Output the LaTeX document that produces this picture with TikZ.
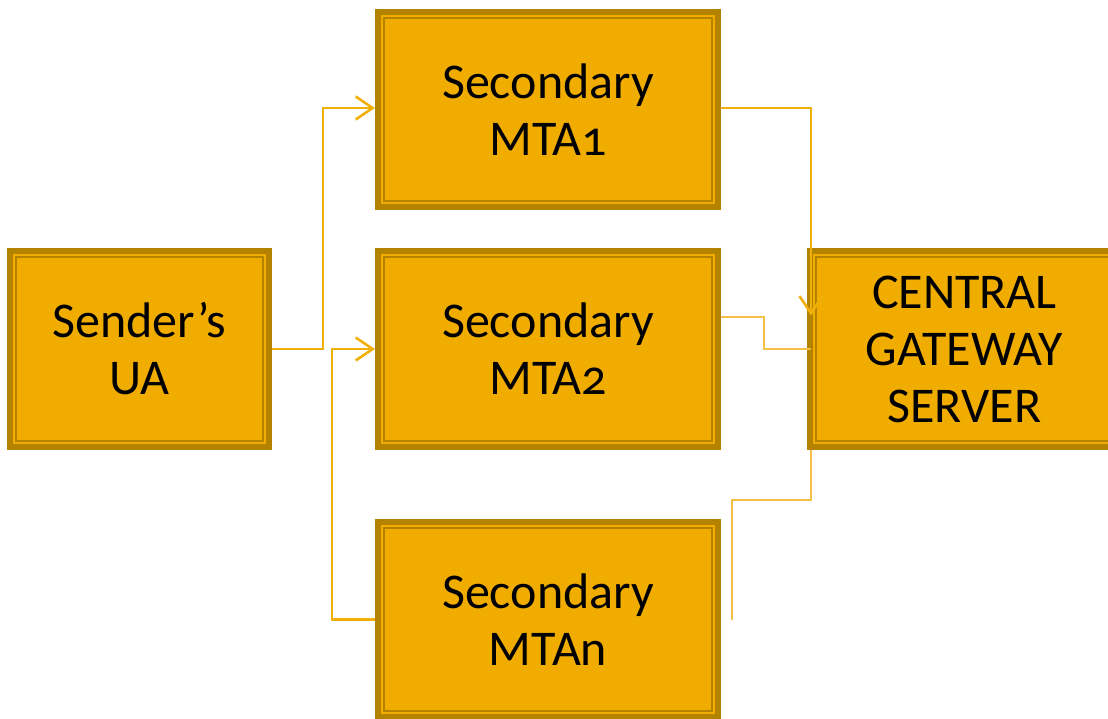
\documentclass[tikz,border=0pt]{standalone}
\usepackage{fontspec}
\setmainfont{Carlito}[Numbers=OldStyle]
\usepackage{tikz}
\usetikzlibrary{calc,arrows.meta}
\definecolor{boxfill}{HTML}{F0AD00}
\definecolor{boxedge}{HTML}{B38300}
\definecolor{feedline}{HTML}{F1AF0A}
\definecolor{thinline}{HTML}{F4C045}

\begin{document}
\begin{tikzpicture}[x=1pt,y=-1pt]
  % `mailbox' is used for every box (dark frame, gold rule, dark rule).
  % `feed' is used for the arrows, `relay' for the thin lines.
  \tikzstyle{mailbox} = [fill=boxfill,inner sep=0pt,outer sep=7pt,minimum height=187pt,
    align=center,font=\fontsize{50}{57}\selectfont,
    preaction={draw=boxedge,line width=14pt},
    postaction={draw=boxedge,line width=6pt},
    postaction={draw=boxfill,line width=2pt}]
  \tikzstyle{feed} = [draw=feedline,line width=2.6pt,-{Straight Barb[length=17pt,width=23pt]}]
  \tikzstyle{relay} = [draw=thinline,line width=2pt]
  %
  \useasboundingbox (0,0) rectangle (1108,719);
  % Boxes.
  \node[mailbox,minimum width=251pt] (ua) at (139.5,349) {Sender’s\\UA};
  \node[mailbox,minimum width=332pt] (mta1) at (548,109.5) {Secondary\\MTA1};
  \node[mailbox,minimum width=332pt] (mta2) at (548,349) {Secondary\\MTA2};
  \node[mailbox,minimum width=332pt] (mtan) at (548,619.5) {Secondary\\MTAn};
  \node[mailbox,minimum width=301pt] (gw) at (964.5,349) {CENTRAL\\GATEWAY\\SERVER};
  \coordinate (loose) at ($(mtan.east)+(11,0)$);
  %
  % Draw lines.
  \draw[feed] (ua.east) -- ++(51,0) |- ($(mta1.west)+(0,-1.5)$);
  \draw[feed] (mtan.west) -- ++(-43,0) |- (mta2.west);
  \draw[feed] ($(mta1.east)+(0,-1.5)$) -| ($(gw.north west)+(4,67)$);
  \draw[relay] ($(mta2.east)+(0,-32)$) -- ++(43,0) |- ($(gw.west)+(4,0)$);
  \draw[relay] ($(gw.south west)+(4,0)$) |- ($(loose)+(0,-120)$) -- (loose);
\end{tikzpicture}
\end{document}
